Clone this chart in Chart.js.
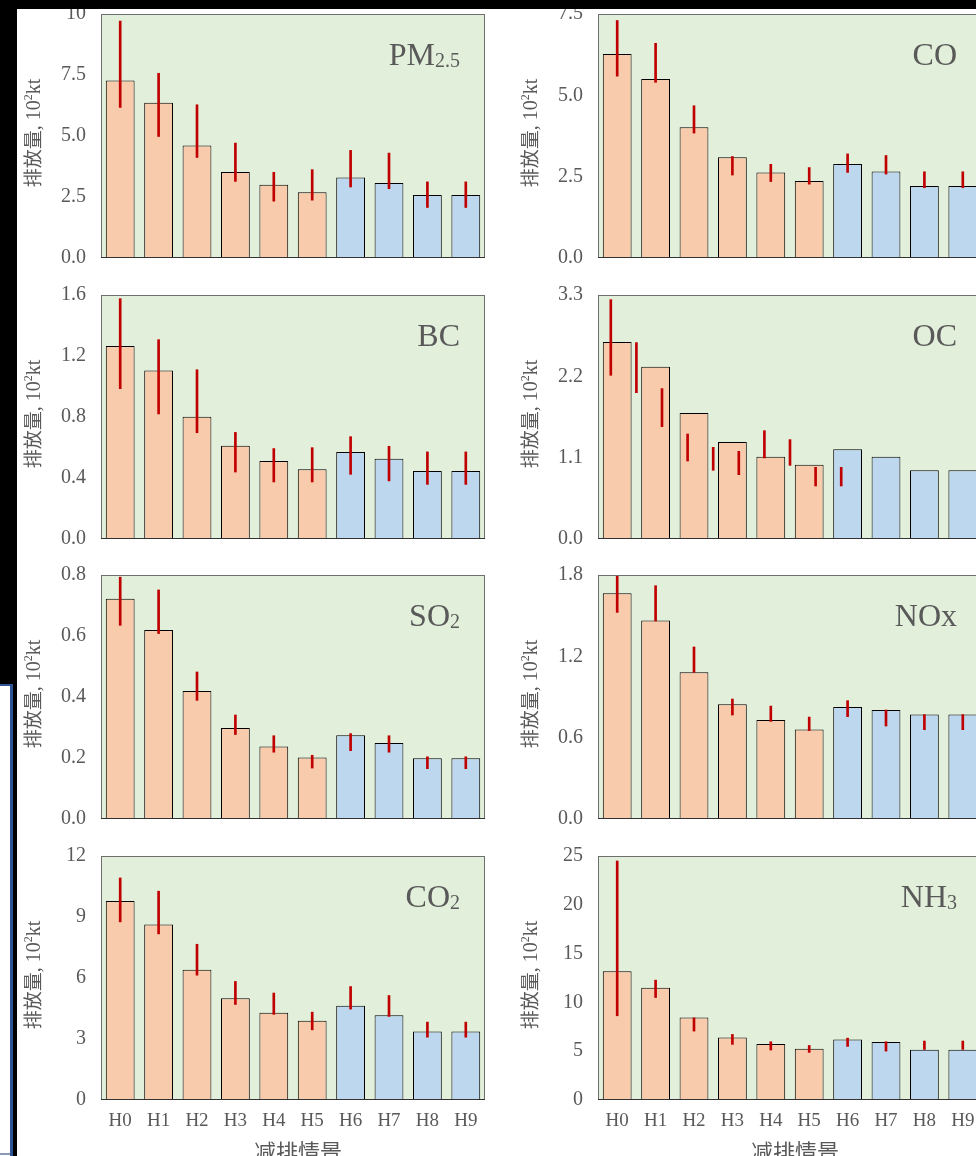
<!DOCTYPE html>
<html>
<head>
<meta charset="utf-8">
<script src="https://cdn.jsdelivr.net/npm/chart.js@4.4.1/dist/chart.umd.min.js"></script>
<style>
  html, body { margin: 0; padding: 0; background: #fff; }
  body { width: 976px; height: 1156px; overflow: hidden; position: relative; }
  canvas { position: absolute; }
  .frame { position: absolute; z-index: 10; }
</style>
</head>
<body>
<div class="frame" style="left:0;top:0;width:976px;height:9px;background:#000"></div>
<div class="frame" style="left:0;top:0;width:17px;height:684px;background:#000"></div>
<div class="frame" style="left:12px;top:684px;width:5px;height:472px;background:#000"></div>
<div class="frame" style="left:0;top:684px;width:12px;height:2px;background:#2f5597"></div>
<div class="frame" style="left:10px;top:684px;width:3px;height:472px;background:#2f5597"></div>
<div class="frame" style="left:0;top:1153px;width:10px;height:2px;background:#8a9ab5"></div>
<script>
// scenarios
const scenarios = ['H0', 'H1', 'H2', 'H3', 'H4', 'H5', 'H6', 'H7', 'H8', 'H9'];

// emissions (10^2 kt) with low / high uncertainty bounds
const pm25   = [7.27, 6.36, 4.61, 3.52, 3.00, 2.69, 3.30, 3.07, 2.58, 2.58];
const pm25Lo = [6.17, 4.98, 4.12, 3.14, 2.33, 2.37, 2.91, 2.84, 2.07, 2.07];
const pm25Hi = [9.71, 7.57, 6.28, 4.71, 3.51, 3.62, 4.41, 4.30, 3.12, 3.12];

const co   = [6.27, 5.50, 4.02, 3.10, 2.63, 2.37, 2.89, 2.66, 2.21, 2.21];
const coLo = [5.59, 5.40, 3.84, 2.55, 2.35, 2.27, 2.63, 2.58, 2.16, 2.16];
const coHi = [7.30, 6.60, 4.68, 3.12, 2.88, 2.78, 3.20, 3.15, 2.65, 2.65];

const bc   = [1.265, 1.105, 0.802, 0.612, 0.511, 0.457, 0.571, 0.527, 0.446, 0.446];
const bcLo = [0.986, 0.820, 0.697, 0.439, 0.374, 0.374, 0.424, 0.381, 0.358, 0.358];
const bcHi = [1.576, 1.307, 1.110, 0.699, 0.593, 0.599, 0.671, 0.608, 0.571, 0.571];

const oc   = [2.665, 2.331, 1.704, 1.312, 1.114, 1.005, 1.213, 1.114, 0.929, 0.929];
const ocLo = [2.214, 1.979, 1.519, 1.055, 0.929, 0.870, 1.096, 0.996, 0.717, 0.717];
const ocHi = [3.237, 2.656, 2.034, 1.420, 1.240, 1.186, 1.465, 1.344, 0.969, 0.969];

const so2   = [0.722, 0.620, 0.420, 0.298, 0.238, 0.202, 0.275, 0.249, 0.199, 0.199];
const so2Lo = [0.635, 0.608, 0.389, 0.277, 0.219, 0.167, 0.224, 0.219, 0.165, 0.165];
const so2Hi = [0.793, 0.751, 0.482, 0.341, 0.273, 0.209, 0.280, 0.273, 0.204, 0.204];

const nox   = [1.665, 1.465, 1.082, 0.846, 0.730, 0.661, 0.826, 0.804, 0.770, 0.770];
const noxLo = [1.524, 1.461, 1.082, 0.767, 0.720, 0.652, 0.755, 0.686, 0.659, 0.659];
const noxHi = [1.790, 1.721, 1.269, 0.885, 0.833, 0.752, 0.873, 0.804, 0.770, 0.770];

const co2   = [9.79, 8.63, 6.40, 5.01, 4.29, 3.90, 4.63, 4.17, 3.37, 3.37];
const co2Lo = [8.76, 8.17, 6.14, 4.70, 4.21, 3.45, 4.47, 4.11, 3.09, 3.09];
const co2Hi = [10.92, 10.27, 7.66, 5.83, 5.26, 4.32, 5.58, 5.14, 3.83, 3.83];

const nh3   = [13.20, 11.49, 8.46, 6.41, 5.73, 5.25, 6.21, 5.93, 5.15, 5.15];
const nh3Lo = [8.63, 10.50, 7.06, 5.70, 5.12, 4.88, 5.49, 5.01, 5.18, 5.18];
const nh3Hi = [24.49, 12.28, 8.42, 6.72, 5.97, 5.59, 6.34, 5.97, 6.04, 6.04];

// y ticks
const pm25Ticks = [0, 2.5, 5, 7.5, 10];        const pm25TickLabels = ['0.0', '2.5', '5.0', '7.5', '10'];
const coTicks   = [0, 2.5, 5, 7.5];            const coTickLabels   = ['0.0', '2.5', '5.0', '7.5'];
const bcTicks   = [0, 0.4, 0.8, 1.2, 1.6];     const bcTickLabels   = ['0.0', '0.4', '0.8', '1.2', '1.6'];
const ocTicks   = [0, 1.1, 2.2, 3.3];          const ocTickLabels   = ['0.0', '1.1', '2.2', '3.3'];
const so2Ticks  = [0, 0.2, 0.4, 0.6, 0.8];     const so2TickLabels  = ['0.0', '0.2', '0.4', '0.6', '0.8'];
const noxTicks  = [0, 0.6, 1.2, 1.8];          const noxTickLabels  = ['0.0', '0.6', '1.2', '1.8'];
const co2Ticks  = [0, 3, 6, 9, 12];            const co2TickLabels  = ['0', '3', '6', '9', '12'];
const nh3Ticks  = [0, 5, 10, 15, 20, 25];      const nh3TickLabels  = ['0', '5', '10', '15', '20', '25'];

const PEACH = '#F8CBAD';
const BLUE = '#BDD7EE';
const PLOT_BG = '#E2EFDA';
const ERR = '#C00000';
const GREY = '#595959';
const SERIF = '"Liberation Serif", "Times New Roman", serif';
const CJK = '"Noto Sans CJK SC", sans-serif';

const panels = [
  { row: 0, col: 0, vals: pm25, lo: pm25Lo, hi: pm25Hi, ticks: pm25Ticks, labels: pm25TickLabels, name: 'PM', sub: '2.5' },
  { row: 0, col: 1, vals: co,   lo: coLo,   hi: coHi,   ticks: coTicks,   labels: coTickLabels,   name: 'CO', sub: '' },
  { row: 1, col: 0, vals: bc,   lo: bcLo,   hi: bcHi,   ticks: bcTicks,   labels: bcTickLabels,   name: 'BC', sub: '' },
  { row: 1, col: 1, vals: oc,   lo: ocLo,   hi: ocHi,   ticks: ocTicks,   labels: ocTickLabels,   name: 'OC', sub: '', shiftedErr: true },
  { row: 2, col: 0, vals: so2,  lo: so2Lo,  hi: so2Hi,  ticks: so2Ticks,  labels: so2TickLabels,  name: 'SO', sub: '2' },
  { row: 2, col: 1, vals: nox,  lo: noxLo,  hi: noxHi,  ticks: noxTicks,  labels: noxTickLabels,  name: 'NOx', sub: '' },
  { row: 3, col: 0, vals: co2,  lo: co2Lo,  hi: co2Hi,  ticks: co2Ticks,  labels: co2TickLabels,  name: 'CO', sub: '2' },
  { row: 3, col: 1, vals: nh3,  lo: nh3Lo,  hi: nh3Hi,  ticks: nh3Ticks,  labels: nh3TickLabels,  name: 'NH', sub: '3' }
];

const rowTops = [0, 281, 561, 842];
const colLefts = [0, 497];

function panelPlugin(p, bottomRow) {
  return {
    id: 'panel',
    beforeDraw(chart) {
      const a = chart.chartArea;
      const ctx = chart.ctx;
      ctx.save();
      ctx.fillStyle = PLOT_BG;
      ctx.fillRect(a.left, a.top, a.right - a.left, a.bottom - a.top);
      ctx.restore();
    },
    afterDraw(chart) {
      const a = chart.chartArea;
      const ctx = chart.ctx;
      ctx.save();

      // plot frame
      ctx.lineWidth = 1;
      ctx.strokeStyle = '#6e6e6e';
      ctx.strokeRect(Math.round(a.left) + 0.5, Math.round(a.top) + 0.5,
                     Math.round(a.right - a.left) - 1, Math.round(a.bottom - a.top) - 1);
      ctx.strokeStyle = '#333';
      ctx.beginPath();
      ctx.moveTo(a.left, Math.round(a.bottom) - 0.5);
      ctx.lineTo(a.right, Math.round(a.bottom) - 0.5);
      ctx.stroke();

      // pollutant label, top right
      ctx.fillStyle = GREY;
      ctx.textBaseline = 'alphabetic';
      ctx.font = '20px ' + SERIF;
      const subW = p.sub ? ctx.measureText(p.sub).width : 0;
      const right = a.right - 25;
      const base = a.top + 51;
      if (p.sub) {
        ctx.textAlign = 'left';
        ctx.fillText(p.sub, right - subW, base + 2);
      }
      ctx.font = '32px ' + SERIF;
      ctx.textAlign = 'right';
      ctx.fillText(p.name, right - subW, base);

      // y axis title
      ctx.translate(a.left - 68, (a.top + a.bottom) / 2 - 3);
      ctx.rotate(-Math.PI / 2);
      const parts = [
        { t: '排放量', f: '19px ' + CJK, dy: 0 },
        { t: ', 10', f: '20px ' + SERIF, dy: 0 },
        { t: '2', f: '12px ' + SERIF, dy: -8 },
        { t: 'kt', f: '20px ' + SERIF, dy: 0 }
      ];
      let total = 0;
      parts.forEach(q => { ctx.font = q.f; q.w = ctx.measureText(q.t).width; total += q.w; });
      let x = -total / 2;
      ctx.textAlign = 'left';
      parts.forEach(q => {
        ctx.font = q.f;
        ctx.fillText(q.t, x, 7 + q.dy);
        x += q.w;
      });
      ctx.restore();

      // x axis title
      if (bottomRow) {
        ctx.save();
        ctx.fillStyle = GREY;
        ctx.font = '22px ' + CJK;
        ctx.textAlign = 'center';
        ctx.textBaseline = 'middle';
        ctx.fillText('减排情景', (a.left + a.right) / 2 + 5, a.bottom + 52);
        ctx.restore();
      }
    }
  };
}

function yScale(p, labelColor) {
  return {
    min: 0,
    max: p.ticks[p.ticks.length - 1],
    grid: { display: false, drawTicks: false },
    border: { display: false },
    afterBuildTicks: s => { s.ticks = p.ticks.map(v => ({ value: v })); },
    ticks: {
      color: labelColor,
      font: { family: SERIF, size: 20 },
      padding: 15,
      autoSkip: false,
      callback: (v, i) => p.labels[i]
    },
    afterFit: s => {
      s.width = 101;
      s.paddingTop = 0;
      s.paddingBottom = 0;
    }
  };
}

function makeCanvas(p, bottomRow, z) {
  const cv = document.createElement('canvas');
  cv.width = 490;
  cv.height = bottomRow ? 314 : 280;
  cv.style.left = colLefts[p.col] + 'px';
  cv.style.top = rowTops[p.row] + 'px';
  cv.style.zIndex = z;
  document.body.appendChild(cv);
  return cv;
}

const baseOptions = {
  responsive: false,
  animation: false,
  devicePixelRatio: 1,
  layout: { padding: { left: 0, right: 5, top: 14, bottom: 0 } },
  plugins: { legend: { display: false }, tooltip: { enabled: false } }
};

panels.forEach(p => {
  const bottomRow = p.row === 3;
  const cv = makeCanvas(p, bottomRow, 1);

  const datasets = [];
  if (!p.shiftedErr) {
    datasets.push({
      data: p.lo.map((l, i) => [l, p.hi[i]]),
      backgroundColor: ERR,
      borderWidth: 0,
      barThickness: 2,
      grouped: false,
      order: 0
    });
  }
  datasets.push({
    data: p.vals,
    backgroundColor: c => c.dataIndex < 6 ? PEACH : BLUE,
    borderColor: '#000',
    borderWidth: 1,
    borderSkipped: false,
    categoryPercentage: 1,
    barPercentage: 0.75,
    order: 1
  });

  new Chart(cv, {
    type: 'bar',
    data: { labels: scenarios, datasets: datasets },
    options: Object.assign({}, baseOptions, {
      scales: {
        x: {
          type: 'category',
          offset: true,
          grid: { display: false, drawTicks: false },
          border: { display: false },
          ticks: {
            display: bottomRow,
            color: GREY,
            font: { family: SERIF, size: 19 },
            padding: 10,
            maxRotation: 0,
            autoSkip: false
          },
          afterFit: s => {
            s.height = bottomRow ? 56 : 22;
            s.paddingLeft = 0;
            s.paddingRight = 0;
          }
        },
        y: yScale(p, GREY)
      }
    }),
    plugins: [panelPlugin(p, bottomRow)]
  });

  if (p.shiftedErr) {
    // in this panel the error bars were placed on a 15-slot secondary axis; overlay chart
    const ov = makeCanvas(p, bottomRow, 2);
    new Chart(ov, {
      type: 'bar',
      data: {
        datasets: [{
          data: p.lo.map((l, i) => ({ x: i, y: [l, p.hi[i]] })),
          backgroundColor: ERR,
          borderWidth: 0,
          barThickness: 2
        }]
      },
      options: Object.assign({}, baseOptions, {
        scales: {
          x: {
            type: 'linear',
            min: -0.5,
            max: 14.5,
            offset: false,
            grid: { display: false, drawTicks: false },
            border: { display: false },
            ticks: { display: false },
            afterFit: s => {
              s.height = bottomRow ? 56 : 22;
              s.paddingLeft = 0;
              s.paddingRight = 0;
            }
          },
          y: yScale(p, 'rgba(0,0,0,0)')
        }
      })
    });
  }
});
</script>
</body>
</html>
